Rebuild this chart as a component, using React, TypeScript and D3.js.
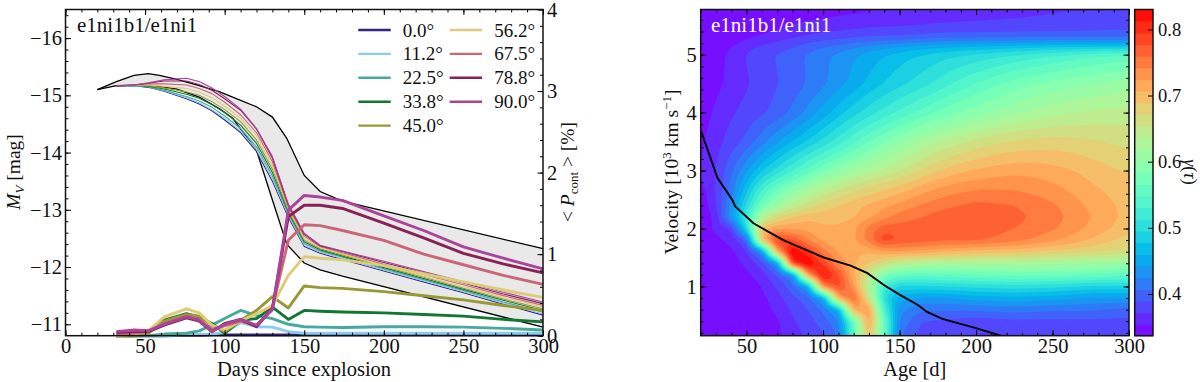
import React, { useEffect, useRef } from 'react';
import * as d3 from 'd3';

// left panel: light curves and continuum polarisation
const days = [32, 43, 52, 62, 76, 84, 92, 100, 110, 120, 130, 140, 150, 160, 174, 200, 225, 250, 275, 300];
const angles = ['0.0°', '11.2°', '22.5°', '33.8°', '45.0°', '56.2°', '67.5°', '78.8°', '90.0°'];
const angleColors = ['#332288', '#88CCEE', '#44AA99', '#117733', '#999933', '#DDCC77', '#CC6677', '#882255', '#AA4499'];

const mv00 = [-15.16, -15.17, -15.14, -15.07, -14.94, -14.85, -14.73, -14.57, -14.35, -14.02, -13.5, -12.87, -12.36, -12.24, -12.13, -11.93, -11.74, -11.55, -11.35, -11.16];
const mv11 = [-15.16, -15.17, -15.15, -15.08, -14.96, -14.87, -14.75, -14.6, -14.38, -14.05, -13.54, -12.9, -12.38, -12.26, -12.15, -11.95, -11.76, -11.57, -11.37, -11.18];
const mv22 = [-15.16, -15.17, -15.15, -15.09, -14.98, -14.9, -14.79, -14.64, -14.42, -14.1, -13.59, -12.93, -12.41, -12.28, -12.17, -11.97, -11.78, -11.59, -11.39, -11.21];
const mv33 = [-15.16, -15.18, -15.16, -15.11, -15.02, -14.95, -14.84, -14.7, -14.48, -14.16, -13.65, -12.96, -12.44, -12.3, -12.19, -11.99, -11.8, -11.61, -11.42, -11.24];
const mv45 = [-15.16, -15.18, -15.17, -15.13, -15.06, -15.0, -14.89, -14.75, -14.54, -14.22, -13.71, -12.99, -12.47, -12.32, -12.21, -12.01, -11.82, -11.63, -11.44, -11.27];
const mv56 = [-15.16, -15.18, -15.18, -15.16, -15.12, -15.06, -14.96, -14.81, -14.6, -14.29, -13.77, -13.02, -12.5, -12.34, -12.23, -12.03, -11.84, -11.66, -11.47, -11.3];
const mv67 = [-15.16, -15.18, -15.2, -15.2, -15.18, -15.12, -15.03, -14.88, -14.66, -14.35, -13.84, -13.05, -12.54, -12.36, -12.25, -12.05, -11.87, -11.69, -11.5, -11.33];
const mv78 = [-15.16, -15.18, -15.21, -15.25, -15.25, -15.19, -15.09, -14.94, -14.74, -14.41, -13.9, -13.08, -12.57, -12.37, -12.27, -12.08, -11.9, -11.72, -11.53, -11.36];
const mv90 = [-15.16, -15.18, -15.22, -15.27, -15.3, -15.24, -15.13, -14.98, -14.76, -14.42, -13.93, -13.1, -12.59, -12.38, -12.28, -12.1, -11.92, -11.74, -11.56, -11.39];
const mvSeries = [mv00, mv11, mv22, mv33, mv45, mv56, mv67, mv78, mv90];

const pol00 = [0, 0, 0, 0, 0.005, 0.005, 0.01, 0.01, 0.01, 0.01, 0.01, 0.01, 0.01, 0.01, 0.01, 0.01, 0.01, 0.01, 0.01, 0.01];
const pol11 = [0, 0, 0, 0, 0.01, 0.01, 0.02, 0.04, 0.16, 0.11, 0.105, 0.05, 0.03, 0.03, 0.03, 0.03, 0.03, 0.03, 0.03, 0.03];
const pol22 = [0, 0, 0, 0.02, 0.03, 0.06, 0.13, 0.21, 0.31, 0.25, 0.21, 0.14, 0.11, 0.105, 0.1, 0.11, 0.11, 0.105, 0.09, 0.07];
const pol33 = [0, 0.01, 0.06, 0.19, 0.27, 0.23, 0.15, 0.03, 0.19, 0.21, 0.35, 0.2, 0.31, 0.3, 0.29, 0.28, 0.26, 0.24, 0.2, 0.17];
const pol45 = [0, 0, 0.03, 0.18, 0.26, 0.24, 0.13, 0.05, 0.19, 0.31, 0.48, 0.34, 0.61, 0.59, 0.58, 0.54, 0.49, 0.44, 0.37, 0.31];
const pol56 = [0, 0.02, 0.06, 0.23, 0.33, 0.28, 0.13, 0.07, 0.18, 0.27, 0.37, 0.74, 0.97, 0.95, 0.93, 0.86, 0.76, 0.66, 0.56, 0.47];
const pol67 = [0.02, 0.03, 0.05, 0.15, 0.24, 0.2, 0.08, 0.12, 0.18, 0.12, 0.34, 1.17, 1.36, 1.35, 1.29, 1.17, 1.0, 0.87, 0.74, 0.63];
const pol78 = [0.04, 0.05, 0.05, 0.13, 0.22, 0.18, 0.05, 0.15, 0.2, 0.11, 0.34, 1.46, 1.6, 1.6, 1.56, 1.38, 1.2, 1.01, 0.88, 0.77];
const pol90 = [0.05, 0.07, 0.06, 0.14, 0.23, 0.19, 0.05, 0.14, 0.2, 0.13, 0.32, 1.54, 1.72, 1.7, 1.66, 1.47, 1.29, 1.09, 0.95, 0.82];
const polSeries = [pol00, pol11, pol22, pol33, pol45, pol56, pol67, pol78, pol90];

// black envelope of the reference model
const bandDays = [20, 32, 43, 52, 59, 70, 84, 97, 105, 120, 130, 139, 150, 160, 174, 300];
const bandUpper = [-15.1, -15.24, -15.35, -15.38, -15.35, -15.28, -15.17, -15.06, -14.97, -14.8, -14.62, -14.25, -13.6, -13.32, -13.15, -12.32];
const bandLower = [-15.1, -15.17, -15.18, -15.17, -15.15, -15.11, -14.97, -14.76, -14.6, -14.04, -13.17, -12.4, -12.07, -11.95, -11.84, -10.95];

const ages = [20, 30, 40, 50, 60, 70, 80, 90, 100, 110, 120, 130, 140, 150, 165, 180, 200, 225, 250, 275, 300];
const velocities = [0.15, 0.4, 0.6, 0.8, 1, 1.2, 1.4, 1.6, 1.8, 2, 2.2, 2.4, 2.7, 3, 3.5, 4, 4.5, 5, 5.15, 5.3, 5.5, 5.78];
const gammaRows = [
  [0.337, 0.337, 0.337, 0.338, 0.34, 0.35, 0.365, 0.375, 0.385, 0.41, 0.55, 0.7, 0.56, 0.41, 0.38, 0.375, 0.37, 0.37, 0.375, 0.375, 0.375],
  [0.337, 0.337, 0.337, 0.338, 0.34, 0.352, 0.37, 0.38, 0.4, 0.42, 0.56, 0.73, 0.56, 0.42, 0.39, 0.385, 0.38, 0.385, 0.385, 0.385, 0.385],
  [0.337, 0.337, 0.337, 0.338, 0.345, 0.36, 0.375, 0.39, 0.41, 0.45, 0.72, 0.73, 0.53, 0.43, 0.41, 0.41, 0.41, 0.415, 0.41, 0.41, 0.4],
  [0.337, 0.337, 0.337, 0.34, 0.35, 0.365, 0.385, 0.4, 0.44, 0.72, 0.77, 0.66, 0.5, 0.45, 0.44, 0.44, 0.45, 0.455, 0.45, 0.44, 0.44],
  [0.337, 0.337, 0.338, 0.342, 0.355, 0.375, 0.4, 0.44, 0.75, 0.79, 0.73, 0.63, 0.52, 0.49, 0.49, 0.495, 0.5, 0.505, 0.5, 0.49, 0.49],
  [0.337, 0.337, 0.34, 0.35, 0.365, 0.39, 0.42, 0.73, 0.83, 0.78, 0.71, 0.65, 0.585, 0.56, 0.555, 0.56, 0.565, 0.57, 0.57, 0.565, 0.555],
  [0.337, 0.34, 0.345, 0.36, 0.38, 0.43, 0.81, 0.84, 0.79, 0.74, 0.71, 0.69, 0.665, 0.64, 0.63, 0.625, 0.625, 0.625, 0.62, 0.615, 0.61],
  [0.337, 0.345, 0.35, 0.37, 0.42, 0.72, 0.84, 0.8, 0.75, 0.72, 0.71, 0.71, 0.72, 0.725, 0.72, 0.71, 0.7, 0.695, 0.685, 0.675, 0.665],
  [0.34, 0.35, 0.36, 0.39, 0.7, 0.8, 0.78, 0.74, 0.72, 0.71, 0.72, 0.75, 0.79, 0.775, 0.77, 0.765, 0.765, 0.75, 0.73, 0.705, 0.68],
  [0.34, 0.36, 0.37, 0.5, 0.7, 0.72, 0.72, 0.72, 0.71, 0.71, 0.72, 0.75, 0.77, 0.77, 0.77, 0.77, 0.77, 0.76, 0.745, 0.72, 0.695],
  [0.34, 0.36, 0.44, 0.52, 0.63, 0.67, 0.69, 0.7, 0.7, 0.7, 0.705, 0.72, 0.735, 0.75, 0.76, 0.77, 0.77, 0.765, 0.75, 0.725, 0.7],
  [0.34, 0.37, 0.43, 0.5, 0.57, 0.61, 0.64, 0.66, 0.68, 0.69, 0.7, 0.71, 0.72, 0.73, 0.745, 0.755, 0.765, 0.76, 0.745, 0.72, 0.7],
  [0.34, 0.37, 0.41, 0.47, 0.53, 0.565, 0.59, 0.615, 0.635, 0.65, 0.665, 0.675, 0.685, 0.695, 0.715, 0.73, 0.74, 0.74, 0.73, 0.71, 0.695],
  [0.34, 0.375, 0.4, 0.44, 0.48, 0.5, 0.53, 0.555, 0.58, 0.6, 0.615, 0.63, 0.64, 0.65, 0.675, 0.695, 0.71, 0.72, 0.715, 0.7, 0.685],
  [0.34, 0.37, 0.38, 0.39, 0.42, 0.44, 0.46, 0.48, 0.5, 0.52, 0.545, 0.565, 0.585, 0.6, 0.625, 0.64, 0.66, 0.675, 0.68, 0.675, 0.665],
  [0.34, 0.36, 0.37, 0.38, 0.385, 0.395, 0.41, 0.43, 0.45, 0.47, 0.49, 0.505, 0.52, 0.535, 0.555, 0.575, 0.595, 0.615, 0.63, 0.64, 0.645],
  [0.34, 0.35, 0.36, 0.37, 0.38, 0.39, 0.395, 0.41, 0.42, 0.435, 0.45, 0.465, 0.48, 0.49, 0.505, 0.525, 0.55, 0.575, 0.59, 0.6, 0.61],
  [0.338, 0.345, 0.36, 0.375, 0.385, 0.39, 0.4, 0.41, 0.42, 0.43, 0.44, 0.45, 0.46, 0.47, 0.48, 0.49, 0.5, 0.515, 0.53, 0.545, 0.555],
  [0.337, 0.345, 0.35, 0.37, 0.375, 0.38, 0.385, 0.4, 0.405, 0.41, 0.42, 0.43, 0.435, 0.44, 0.45, 0.455, 0.46, 0.465, 0.47, 0.47, 0.47],
  [0.337, 0.34, 0.34, 0.35, 0.36, 0.365, 0.37, 0.375, 0.38, 0.385, 0.385, 0.39, 0.39, 0.39, 0.395, 0.4, 0.4, 0.4, 0.4, 0.4, 0.4],
  [0.337, 0.338, 0.34, 0.34, 0.34, 0.35, 0.355, 0.36, 0.36, 0.365, 0.365, 0.37, 0.37, 0.37, 0.372, 0.375, 0.375, 0.378, 0.38, 0.382, 0.385],
  [0.337, 0.337, 0.337, 0.338, 0.34, 0.34, 0.345, 0.345, 0.345, 0.35, 0.35, 0.35, 0.355, 0.355, 0.36, 0.36, 0.365, 0.365, 0.37, 0.37, 0.37],
];

// black line over the map
const lineAges = [20, 31, 40.5, 42.6, 54.5, 74, 100.4, 118, 129, 140, 150, 162, 168, 178, 200, 216];
const lineVel = [3.7, 2.87, 2.5, 2.38, 2.09, 1.8, 1.5, 1.36, 1.23, 1.02, 0.86, 0.68, 0.56, 0.44, 0.28, 0.15];

const gammaMin = 0.337;
const gammaMax = 0.83;
const levelCount = 28;
const serif = '"Liberation Serif", serif';

// matplotlib "rainbow"
function rainbow(t: number) {
  const r = Math.min(1, Math.abs(2 * t - 0.5));
  const g = Math.sin(Math.PI * t);
  const b = Math.cos((Math.PI * t) / 2);
  return d3.rgb(r * 255, g * 255, b * 255).formatHex();
}

function sampleGamma(age: number, vel: number) {
  const i = Math.min(d3.bisectRight(ages, age) - 1, ages.length - 2);
  const j = Math.min(d3.bisectRight(velocities, vel) - 1, velocities.length - 2);
  const u = (age - ages[i]) / (ages[i + 1] - ages[i]);
  const w = (vel - velocities[j]) / (velocities[j + 1] - velocities[j]);
  const a = gammaRows[j][i] * (1 - u) + gammaRows[j][i + 1] * u;
  const b = gammaRows[j + 1][i] * (1 - u) + gammaRows[j + 1][i + 1] * u;
  return a * (1 - w) + b * w;
}

function range(start: number, stop: number, step: number) {
  return d3.range(Math.round((stop - start) / step) + 1).map(i => +(start + i * step).toFixed(4));
}

export default function App() {
  const node = useRef<SVGSVGElement>(null);

  useEffect(() => {
    const svg = d3.select(node.current);
    svg.selectAll('*').remove();
    svg.attr('font-family', serif).attr('fill', '#111');

    const top = 9.5;
    const bottom = 335.7;

    // ---------- left panel
    const x = d3.scaleLinear().domain([0, 300]).range([65.5, 543]);
    const y = d3.scaleLinear().domain([-10.8, -16.5]).range([bottom, top]);
    const yPol = d3.scaleLinear().domain([0, 4]).range([bottom, top]);

    const left = svg.append('g');
    const area = d3.area<number>()
      .x(d => x(bandDays[d]))
      .y0(d => y(bandLower[d]))
      .y1(d => y(bandUpper[d]));
    left.append('path').attr('d', area(d3.range(bandDays.length))).attr('fill', '#e9e9e9');

    const lineOf = (s: number[], yScale: d3.ScaleLinear<number, number>, xs: number[]) =>
      d3.line<number>().x((_, i) => x(xs[i])).y(d => yScale(d))(s);

    left.append('path').attr('d', lineOf(bandUpper, y, bandDays)).attr('fill', 'none').attr('stroke', '#000').attr('stroke-width', 1.3);
    left.append('path').attr('d', lineOf(bandLower, y, bandDays)).attr('fill', 'none').attr('stroke', '#000').attr('stroke-width', 1.3);

    mvSeries.forEach((s, i) => {
      left.append('path').attr('d', lineOf(s, y, days)).attr('fill', 'none')
        .attr('stroke', angleColors[i]).attr('stroke-width', 1.1).attr('stroke-linejoin', 'round');
    });
    polSeries.forEach((s, i) => {
      left.append('path').attr('d', lineOf(s, yPol, days)).attr('fill', 'none')
        .attr('stroke', angleColors[i]).attr('stroke-width', 2.9).attr('stroke-linejoin', 'round');
    });

    // ---------- right panel
    const xAge = d3.scaleLinear().domain([20, 300]).range([700.7, 1129]);
    const yVel = d3.scaleLinear().domain([0.15, 5.78]).range([bottom, top]);
    const levels = d3.range(levelCount + 1).map(i => gammaMin + (i * (gammaMax - gammaMin)) / levelCount);
    const color = (i: number) => rainbow((i + 0.5) / levelCount);

    const nx = 280;
    const ny = 220;
    const gx = d3.scaleLinear().domain([0, nx]).range([20, 300]);
    const gy = d3.scaleLinear().domain([0, ny]).range([5.78, 0.15]);
    const values = new Float64Array(nx * ny);
    for (let j = 0; j < ny; j++) {
      for (let i = 0; i < nx; i++) {
        values[j * nx + i] = sampleGamma(gx(i + 0.5), gy(j + 0.5));
      }
    }
    // soft upper part of the map, sharper ridge below
    const soft = Float64Array.from(values);
    d3.blur2({ data: soft, width: nx, height: ny }, 7, 2);
    d3.blur2({ data: values, width: nx, height: ny }, 1.2);
    for (let j = 0; j < ny; j++) {
      const mix = Math.max(0, Math.min(1, (gy(j + 0.5) - 2.4) / 0.4));
      for (let i = 0; i < nx; i++) {
        values[j * nx + i] = values[j * nx + i] * (1 - mix) + soft[j * nx + i] * mix;
      }
    }

    svg.append('clipPath').attr('id', 'map-clip').append('rect')
      .attr('x', 700.7).attr('y', top).attr('width', 1129 - 700.7).attr('height', bottom - top);
    const map = svg.append('g').attr('clip-path', 'url(#map-clip)');
    map.append('rect').attr('x', 700.7).attr('y', top).attr('width', 1129 - 700.7).attr('height', bottom - top).attr('fill', color(0));

    const project = d3.geoTransform({
      point(px, py) {
        this.stream.point(xAge(gx(px)), yVel(gy(py)));
      },
    });
    const contourPath = d3.geoPath(project);
    d3.contours().size([nx, ny]).thresholds(levels.slice(1, -1))(Array.from(values)).forEach((c, i) => {
      map.append('path').attr('d', contourPath(c as any)).attr('fill', color(i + 1));
    });

    map.append('path')
      .attr('d', d3.line<number>().x(d => xAge(d)).y((_, i) => yVel(lineVel[i]))(lineAges))
      .attr('fill', 'none').attr('stroke', '#000').attr('stroke-width', 1.9);

    // ---------- colour bar
    const yBar = d3.scaleLinear().domain([gammaMin, gammaMax]).range([bottom, top]);
    const barX = 1134.7;
    const barW = 18.3;
    svg.append('g').selectAll('rect').data(d3.range(levelCount)).enter().append('rect')
      .attr('x', barX).attr('width', barW)
      .attr('y', i => yBar(levels[i + 1]))
      .attr('height', i => yBar(levels[i]) - yBar(levels[i + 1]) + 0.6)
      .attr('fill', i => color(i));

    // ---------- axes
    const ticks = (g: any, axis: any, major: number[], minor: number[], pad: number | null) => {
      const sel = g.append('g').attr('font-family', serif);
      sel.call(axis.tickValues(minor).tickSize(-3).tickFormat(() => ''));
      sel.selectAll('path').remove();
      const maj = g.append('g');
      maj.call(axis.tickValues(major).tickSize(-5.5).tickPadding(pad ?? 0).tickFormat(pad !== null ? d3.format('d') : () => ''));
      maj.selectAll('path').remove();
      maj.attr('font-family', serif).attr('font-size', 20.5);
      g.selectAll('line').attr('stroke', '#000').attr('stroke-width', 1);
      maj.selectAll('text').attr('fill', '#111');
    };
    const at = (tx: number, ty: number) => svg.append('g').attr('transform', `translate(${tx},${ty})`);

    ticks(at(0, bottom), d3.axisBottom(x), range(0, 300, 50), range(0, 300, 10), 3);
    ticks(at(0, top), d3.axisTop(x), range(0, 300, 50), range(0, 300, 10), null);
    ticks(at(65.5, 0), d3.axisLeft(y), range(-16, -11, 1), range(-16.4, -11, 0.2), 3.5);
    ticks(at(543, 0), d3.axisRight(yPol), range(0, 4, 1), range(0, 4, 0.2), 4);

    ticks(at(0, bottom), d3.axisBottom(xAge), range(50, 300, 50), range(20, 300, 10), 3);
    ticks(at(0, top), d3.axisTop(xAge), range(50, 300, 50), range(20, 300, 10), null);
    ticks(at(700.7, 0), d3.axisLeft(yVel), range(1, 5, 1), range(0.2, 5.6, 0.2), 4);
    ticks(at(1129, 0), d3.axisRight(yVel), range(1, 5, 1), range(0.2, 5.6, 0.2), null);

    const barAxis = at(barX + barW, 0);
    barAxis.call(d3.axisRight(yBar).tickValues([0.4, 0.5, 0.6, 0.7, 0.8]).tickSize(-5).tickPadding(5).tickFormat(d3.format('.1f')) as any);
    barAxis.select('path').remove();
    barAxis.attr('font-family', serif).attr('font-size', 18.5);
    barAxis.selectAll('line').attr('stroke', '#000').attr('stroke-width', 1);
    barAxis.selectAll('text').attr('fill', '#111');

    // spines
    [[65.5, 543], [700.7, 1129], [barX, barX + barW]].forEach(([a, b]) => {
      svg.append('rect').attr('x', a).attr('y', top).attr('width', b - a).attr('height', bottom - top)
        .attr('fill', 'none').attr('stroke', '#111').attr('stroke-width', 1.5);
    });

    // ---------- text
    const label = (tx: number, ty: number, rot: number, size: number) =>
      svg.append('text').attr('transform', `translate(${tx},${ty}) rotate(${rot})`)
        .attr('text-anchor', 'middle').attr('font-size', size).attr('fill', '#111');

    label(304, 376, 0, 20.5).text('Days since explosion');
    label(914.8, 376, 0, 20.5).text('Age [d]');

    const mvLabel = label(20, 172, -90, 19.5);
    mvLabel.append('tspan').attr('font-style', 'italic').text('M');
    mvLabel.append('tspan').attr('font-style', 'italic').attr('font-size', 13).attr('dy', 4).text('V');
    mvLabel.append('tspan').attr('dy', -4).text(' [mag]');

    const polLabel = label(574, 172, -90, 19.5);
    polLabel.append('tspan').text('< ');
    polLabel.append('tspan').attr('font-style', 'italic').text('P');
    polLabel.append('tspan').attr('font-size', 13).attr('dy', 4).text('cont');
    polLabel.append('tspan').attr('dy', -4).text(' > [%]');

    const velLabel = label(678, 172, -90, 19.5);
    velLabel.append('tspan').text('Velocity [10');
    velLabel.append('tspan').attr('font-size', 13).attr('dy', -7).text('3');
    velLabel.append('tspan').attr('dy', 7).text(' km s');
    velLabel.append('tspan').attr('font-size', 13).attr('dy', -7).text('−1');
    velLabel.append('tspan').attr('dy', 7).text(']');

    const gammaLabel = label(1184, 172, 90, 18);
    gammaLabel.append('tspan').attr('font-style', 'italic').text('γ');
    gammaLabel.append('tspan').text('(');
    gammaLabel.append('tspan').attr('font-style', 'italic').text('τ');
    gammaLabel.append('tspan').text(')');

    svg.append('text').attr('x', 77).attr('y', 31.5).attr('font-size', 21).attr('fill', '#111').text('e1ni1b1/e1ni1');
    svg.append('text').attr('x', 711).attr('y', 31.5).attr('font-size', 21).attr('fill', '#fff').text('e1ni1b1/e1ni1');

    // legend
    const legend = svg.append('g').selectAll('g').data(angles).enter().append('g')
      .attr('transform', (_, i) => `translate(${i < 5 ? 358.3 : 449.7},${30 + (i < 5 ? i : i - 5) * 23.9})`);
    legend.append('line').attr('x1', 0).attr('x2', 32.4).attr('stroke', (_, i) => angleColors[i]).attr('stroke-width', 2.4);
    legend.append('text').attr('x', 44.5).attr('y', 6.5).attr('font-size', 19).attr('fill', '#111').text(d => d);
  }, []);

  return <svg ref={node} width={1200} height={382} style={{ position: 'absolute', left: 0, top: 0, background: '#fff' }} />;
}
